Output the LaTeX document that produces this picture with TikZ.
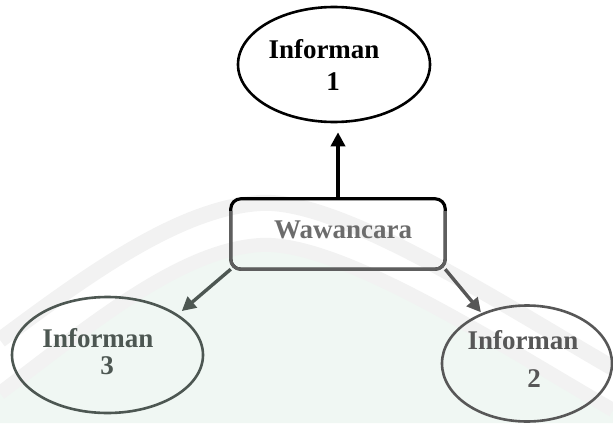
\documentclass[tikz,border=0pt]{standalone}
\usepackage{fontspec}
\setmainfont{Liberation Serif}
\usetikzlibrary{shapes.geometric,arrows.meta}
\definecolor{greygreen}{HTML}{4D5752}
\definecolor{midgrey}{HTML}{575757}
\definecolor{boxgrey}{HTML}{5E5E5E}
\definecolor{wordgrey}{HTML}{6C6C6C}
\definecolor{bandgrey}{HTML}{F2F2F2}
\definecolor{mint}{HTML}{F0F7F3}

\begin{document}
\begin{tikzpicture}[x=1pt,y=-1pt,
  oval/.style={ellipse, draw, line width=2.6pt, inner sep=0pt},
  caption/.style={font=\fontsize{27}{32}\selectfont\bfseries, align=center, inner sep=0pt},
  link/.style={line width=3.6pt, -{Triangle[length=14pt,width=14pt]}},
]
\useasboundingbox (0,0) rectangle (613,423);

% faint arched background bands
\fill[mint] (0,393) .. controls (90,325) and (180,250) .. (260,245)
  .. controls (340,240) and (500,345) .. (613,410) -- (613,423) -- (0,423) -- cycle;
\draw[bandgrey, line width=16pt] (0,340) .. controls (90,273) and (180,208) .. (260,203)
  .. controls (340,198) and (500,303) .. (613,368);
\draw[bandgrey, line width=14pt] (0,393) .. controls (90,325) and (180,250) .. (260,245)
  .. controls (340,240) and (500,345) .. (613,410);

% ovals
\node[oval, minimum width=192pt, minimum height=115pt] (i1) at (334,64.5) {};
\node[caption] (i1t) at (324,65) {Informan\\\hspace*{18pt}1};

\node[oval, draw=greygreen, minimum width=191pt, minimum height=116pt] (i3) at (107.5,355) {};
\node[caption, text=greygreen] (i3t) at (98,352) {Informan\\[-5pt]\hspace*{18pt}3};

\node[oval, draw=midgrey, minimum width=170pt, minimum height=116pt] (i2) at (527,363.5) {};
\node[caption, text=midgrey] (i2t) at (523,359) {Informan\\[6pt]\hspace*{22pt}2};

% central box: black above, greyed below
\node[minimum width=214pt, minimum height=70pt, inner sep=0pt] (box) at (338,234) {};
\draw[line width=3.2pt, rounded corners=10pt] (box.south west) rectangle (box.north east);
\begin{scope}
  \clip (0,211) rectangle (613,300);
  \draw[boxgrey, line width=3.2pt, rounded corners=10pt] (box.south west) rectangle (box.north east);
\end{scope}
\node[caption, text=wordgrey] (boxt) at (343,230) {Wawancara};

% connectors
\draw[link, shorten >=9pt] (box.north) -- (box.north |- i1.south);
\draw[link, greygreen, line width=3.4pt, shorten >=5pt] (box.south west) -- (i3.30);
\draw[link, midgrey, line width=3.4pt, shorten >=1pt] (box.south east) -- (i2.132);
\end{tikzpicture}
\end{document}
